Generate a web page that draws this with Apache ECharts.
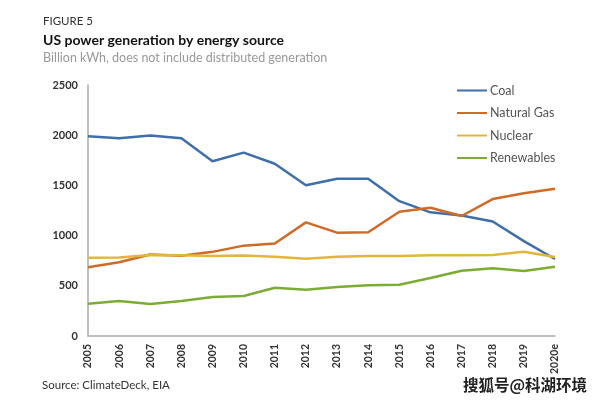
<!DOCTYPE html>
<html><head><meta charset="utf-8">
<script src="https://cdn.jsdelivr.net/npm/echarts@6/dist/echarts.min.js"></script>
<style>html,body{margin:0;padding:0;background:#fff}#c{width:601px;height:407px}</style>
</head><body><div id="c"></div>
<script>
const years = ['2005','2006','2007','2008','2009','2010','2011','2012','2013','2014','2015','2016','2017','2018','2019','2020e'];
const coal = [1989,1969,1998,1969,1740,1826,1716,1501,1567,1567,1343,1232,1200,1140,945,767];
const naturalGas = [684,734,812,800,838,900,922,1132,1029,1033,1238,1278,1195,1364,1421,1467];
const nuclear = [780,782,806,805,797,803,790,770,789,797,797,805,805,807,840,786];
const renewables = [322,349,319,349,388,398,481,461,488,505,511,578,650,674,647,690];
const yTicks = [0,500,1000,1500,2000,2500];

const chart = echarts.init(document.getElementById('c'));
const font = 'Lato, "Noto Sans", sans-serif';
function s(name, data, color){
  return {name, type:'line', data, symbol:'none', lineStyle:{color, width:2.5}, itemStyle:{color}};
}
chart.setOption({
  animation:false,
  textStyle:{fontFamily:font},
  title:[
    {text:'FIGURE 5', left:38, top:10, textStyle:{fontSize:11.5, fontWeight:'normal', color:'#333', fontFamily:font}},
    {text:'US power generation by energy source', left:38, top:28, textStyle:{fontSize:14, fontWeight:'bold', color:'#111', fontFamily:font}},
    {text:'Billion kWh, does not include distributed generation', left:38, top:46, textStyle:{fontSize:12.5, fontWeight:'normal', color:'#999', fontFamily:font}},
    {text:'Source: ClimateDeck, EIA', left:37, top:374, textStyle:{fontSize:11.5, fontWeight:'normal', color:'#333', fontFamily:font}},
    {text:'搜狐号@科湖环境', left:458, top:372, textStyle:{fontSize:15.5, fontWeight:'bold', color:'#222', fontFamily:'"Noto Sans CJK SC"'}}
  ],
  legend:{orient:'vertical', left:452, top:79, itemWidth:30, itemHeight:10, itemGap:9.5,
    icon:'path://M0,4 L30,4 L30,6 L0,6 Z',
    textStyle:{fontSize:12.5, color:'#555', fontFamily:font, padding:[0,0,0,-2]},
    data:['Coal','Natural Gas','Nuclear','Renewables']},
  grid:{left:88, right:46, top:85, bottom:71},
  xAxis:{type:'category', data:years, boundaryGap:false,
    axisLine:{lineStyle:{color:'#aaa', width:1.5}}, axisTick:{show:false},
    axisLabel:{rotate:90, fontSize:10.5, color:'#333', fontWeight:'bold', margin:8, interval:0}},
  yAxis:{type:'value', min:yTicks[0], max:yTicks[yTicks.length-1], interval:500,
    splitLine:{show:false}, axisLine:{show:true, lineStyle:{color:'#aaa', width:1.5}}, axisTick:{show:false},
    axisLabel:{fontSize:11, color:'#333', fontWeight:'bold', margin:10, formatter:v=>String(v)}},
  series:[
    s('Coal', coal, '#3f6ea8'),
    s('Natural Gas', naturalGas, '#cf6a27'),
    s('Nuclear', nuclear, '#e2b53c'),
    s('Renewables', renewables, '#7bad34')
  ]
});
</script></body></html>
